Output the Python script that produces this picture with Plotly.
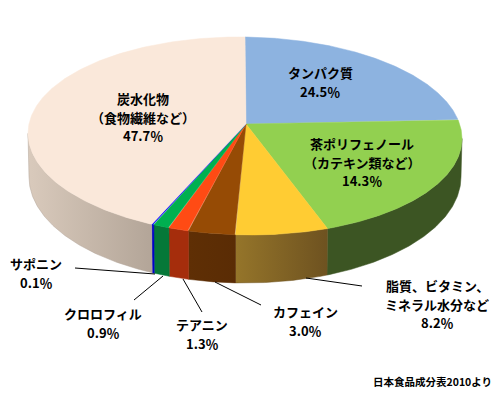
import numpy as np
import plotly.graph_objects as go

# Components, clockwise from 12 o'clock
names = ["タンパク質", "茶ポリフェノール<br>（カテキン類など）", "脂質、ビタミン、<br>ミネラル水分など",
         "カフェイン", "テアニン", "クロロフィル", "サポニン", "炭水化物<br>（食物繊維など）"]
labelled_percent = ["24.5", "14.3", "8.2", "3.0", "1.3", "0.9", "0.1", "47.7"]
# Share of the rim each slice occupies as drawn in the picture
drawn_share = [21.9, 21.9, 6.9, 3.5, 1.5, 1.2, 0.17, 42.93]
top_colors = ["#8DB3E0", "#92D050", "#FFCC33", "#964B05", "#FF4B14", "#00B050", "#0000FF", "#FAE8DA"]
side_left = ["#3C5523", "#3C5523", "#95752A", "#5F2F05", "#A52D0C", "#057838", "#0000C8", "#D9CABC"]
side_right = ["#3C5523", "#3C5523", "#6E5220", "#5A2C05", "#A52D0C", "#057838", "#0000C8", "#B3A598"]
label_xy = [(320, 82), (362, 162), (437, 304), (305, 321), (202, 334), (103, 323), (36, 273), (143, 117)]
leader_from = [None, None, (362, 286), (261, 305), (202, 312), (134, 300), (75, 268), None]
leader_to = [None, None, (306, 278), (215, 282), (183, 279), (163, 276), (155, 274), None]
source_note = "日本食品成分表2010より"

# Cylinder geometry in page units
CX, TOP_CY, TOP_A, TOP_B, TILT = 245, 136, 217, 99, 0.012
BOT_CY, BOT_A, BOT_B = 177, 216, 106
APEX = (246, 124)
LINE_PITCH = 18.3


def top_rim(t):
    x = CX + TOP_A * np.sin(t)
    return x, TOP_CY - TOP_B * np.cos(t) + TILT * (x - CX)


def bottom_rim(t):
    return CX + BOT_A * np.sin(t), BOT_CY - BOT_B * np.cos(t)


edges = np.radians(np.concatenate([[0], np.cumsum(drawn_share)]) * 3.6)
fig = go.Figure()

# Visible outer wall
for i in range(len(drawn_share)):
    a, b = max(edges[i], np.pi / 2), min(edges[i + 1], 3 * np.pi / 2)
    if b <= a:
        continue
    t = np.linspace(a, b, 120)
    xt, yt = top_rim(t)
    xb, yb = bottom_rim(t)
    fig.add_trace(go.Scatter(
        x=np.r_[xt, xb[::-1], xt[0]], y=np.r_[yt, yb[::-1], yt[0]],
        mode="lines", line=dict(color=side_right[i], width=0.5), fill="toself",
        fillgradient=dict(type="horizontal",
                          colorscale=[[0, side_left[i]], [1, side_right[i]]]),
        hoverinfo="skip"))

# Top face
for i in range(len(drawn_share)):
    t = np.linspace(edges[i], edges[i + 1], 200)
    x, y = top_rim(t)
    fig.add_trace(go.Scatter(
        x=np.r_[APEX[0], x, APEX[0]], y=np.r_[APEX[1], y, APEX[1]],
        mode="lines", line=dict(color=top_colors[i], width=0.5), fill="toself",
        fillcolor=top_colors[i], hoverinfo="skip"))

font = dict(family="Noto Sans CJK JP", size=13, color="#000000", weight="bold")
annotations = []
for n, p, (lx, ly) in zip(names, labelled_percent, label_xy):
    lines = n.split("<br>") + [f"{p}％"]
    for k, line in enumerate(lines):
        annotations.append(dict(
            x=lx, y=ly + (k - (len(lines) - 1) / 2) * LINE_PITCH, xref="x", yref="y",
            text=f"<b>{line}</b>", showarrow=False, font=font,
            xanchor="center", yanchor="middle"))
annotations.append(dict(x=432, y=381, xref="x", yref="y", text=f"<b>{source_note}</b>",
                        showarrow=False, font=dict(family="Noto Sans CJK JP", size=10.5, color="#000000")))

shapes = [
    dict(type="line", x0=p[0], y0=p[1], x1=q[0], y1=q[1], xref="x", yref="y",
         line=dict(color="#000000", width=1))
    for p, q in zip(leader_from, leader_to) if p is not None
]

fig.update_layout(
    width=500, height=404, margin=dict(l=0, r=0, t=0, b=0),
    paper_bgcolor="white", plot_bgcolor="white", showlegend=False,
    xaxis=dict(range=[0, 500], visible=False, fixedrange=True),
    yaxis=dict(range=[404, 0], visible=False, fixedrange=True),
    annotations=annotations, shapes=shapes,
)
fig.write_html("out.html", config=dict(displayModeBar=False),
               post_script="document.body.style.margin='0';document.body.style.overflow='hidden';")
